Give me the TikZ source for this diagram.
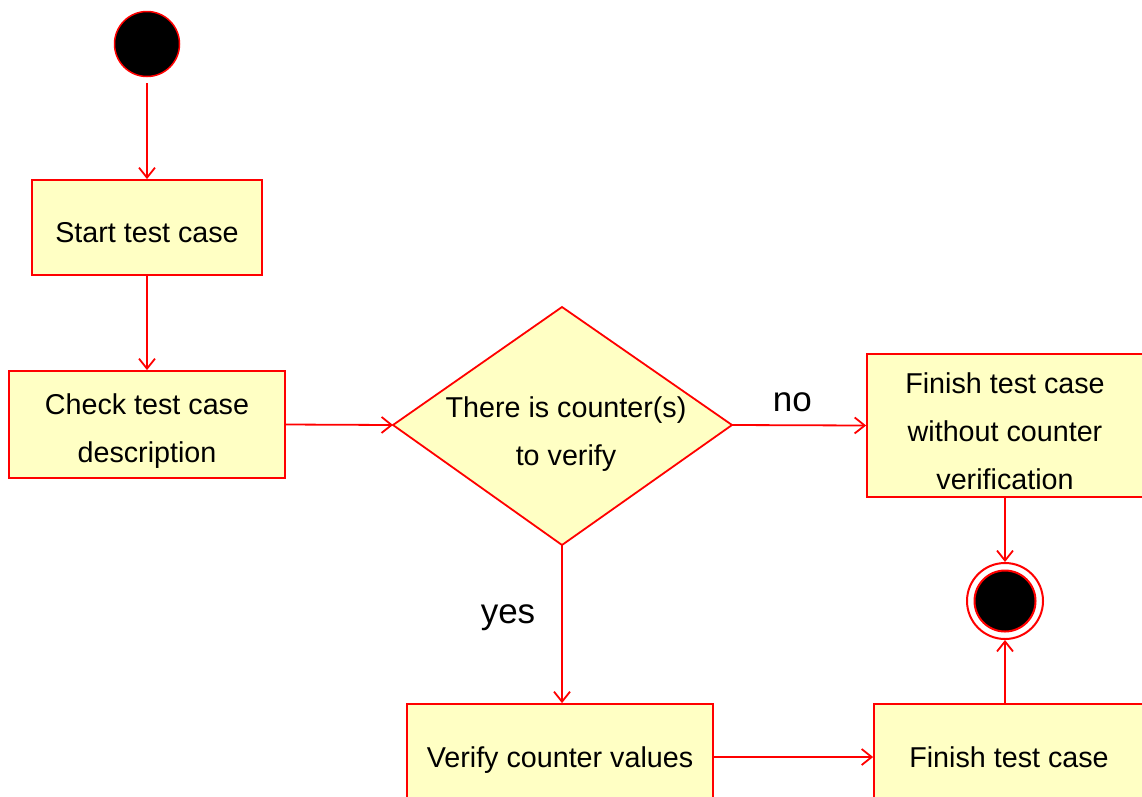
\documentclass[tikz,border=0pt]{standalone}
\usepackage{fontspec}
\setmainfont{Liberation Sans}
\usetikzlibrary{arrows.meta,shapes.geometric}
\definecolor{actfill}{RGB}{255,255,196}
\definecolor{uml}{RGB}{255,0,0}
\begin{document}
\begin{tikzpicture}[x=1pt,y=-1pt,
  flow/.style={draw=uml,line width=1.8pt,-{Straight Barb[length=10pt,width=16pt,line width=1.8pt]}},
  action/.style={draw=uml,line width=1.8pt,fill=actfill,rectangle,inner sep=0pt},
  caption/.style={align=center,inner sep=0pt,font=\fontsize{28.7}{48}\selectfont},
  guard/.style={font=\fontsize{35}{40}\selectfont,inner sep=0pt}]
\useasboundingbox (0,0) rectangle (1142,796);
\clip (0,0) rectangle (1142,796);
\fill[white] (0,0) rectangle (1142,796);

% initial node
\node[circle,draw=uml,line width=1.5pt,fill=black,minimum size=65pt,inner sep=0pt] (init) at (147,44) {};

% action boxes
\node[action,minimum width=230pt,minimum height=95pt] (start) at (147,227.5) {};
\node[action,minimum width=276pt,minimum height=107pt] (check) at (147,424.5) {};
\node[action,minimum width=276pt,minimum height=143pt] (nocnt) at (1005,425.5) {};
\node[action,minimum width=306pt,minimum height=106pt] (verify) at (560,757) {};
\node[action,minimum width=270pt,minimum height=106pt] (finish) at (1009,757) {};

% action texts
\node[caption] (startT) at ([yshift=-5pt]start.center) {Start test case};
\node[caption] (checkT) at ([yshift=-7pt]check.center) {Check test case\\description};
\node[caption] (nocntT) at ([yshift=-6pt]nocnt.center) {Finish test case\\without counter\\verification};
\node[caption] (verifyT) at ([yshift=-3pt]verify.center) {Verify counter values};
\node[caption] (finishT) at (finish.center) {Finish test case};

% decision
\draw[draw=uml,line width=1.8pt,fill=actfill] (393,425) coordinate (dW) -- (562,307) coordinate (dN)
  -- (732,425) coordinate (dE) -- (562,545) coordinate (dS) -- cycle;
\node[caption] (dec) at (566,434) {There is counter(s)\\to verify};

% final node
\node[circle,draw=uml,line width=2pt,fill=white,minimum size=76pt,inner sep=0pt] (final) at (1005,601) {};
\fill[black,draw=uml,line width=2pt] (final.center) circle (30.5);

% flows
\draw[flow,shorten <=6pt] (init.south) -- (start.north);
\draw[flow] (start.south) -- (check.north);
\draw[flow] (check.east) -- (dW);
\draw[flow] (dE) -- node[guard,above=12pt,pos=0.45] (no) {no} (nocnt.west);
\draw[flow] (dS) -- (verify.north -| dS);
\node[guard] (yes) at (508,618) {yes};
\draw[flow] (verify.east) -- (finish.west);
\draw[flow] (nocnt.south) -- (final.north);
\draw[flow] (final.south |- finish.north) -- (final.south);
\end{tikzpicture}
\end{document}
